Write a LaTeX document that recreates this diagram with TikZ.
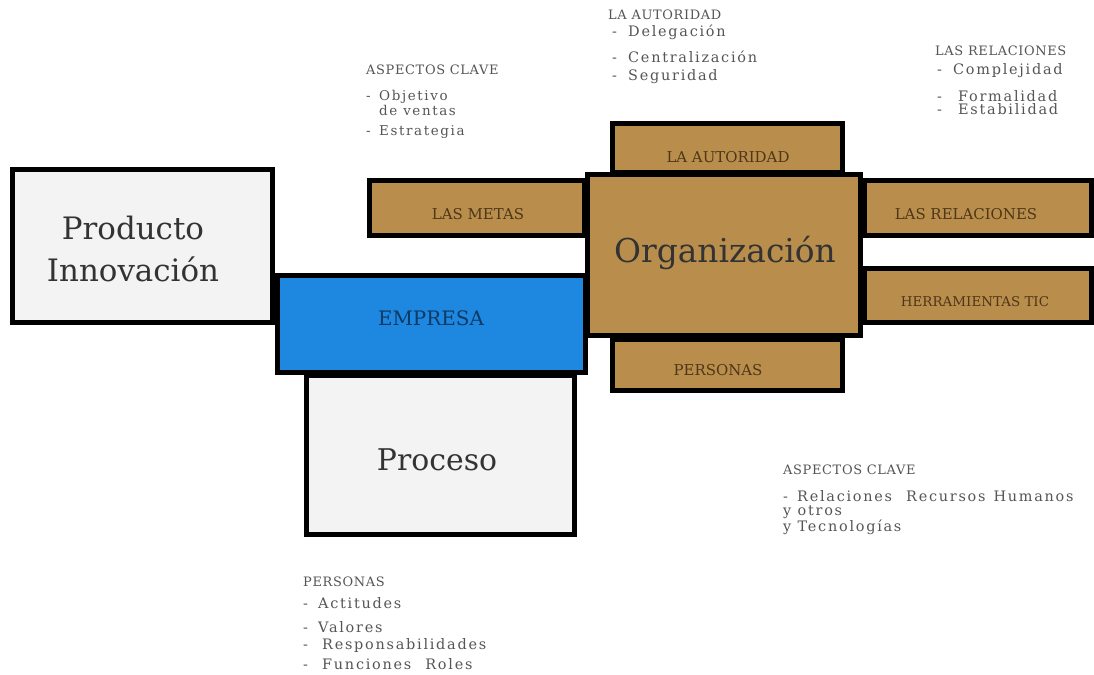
\documentclass[tikz,border=0pt]{standalone}
\usepackage{fontspec}
\setmainfont{DejaVu Serif}
\newfontfamily\notefont[LetterSpace=12]{DejaVu Serif}
\newfontfamily\headfont[LetterSpace=5]{DejaVu Serif}
\definecolor{brownc}{HTML}{B98E4C}
\definecolor{bluec}{HTML}{1E88E0}
\definecolor{paper}{HTML}{F2F3F2}
\definecolor{brtext}{HTML}{4E3617}
\definecolor{bltext}{HTML}{0D3A66}
\definecolor{notec}{HTML}{555555}
\newcommand{\itm}[1][15bp]{\makebox[#1][l]{-}}
\tikzset{
  box/.style={draw=black, line width=5bp, inner sep=0pt, outer sep=0pt},
  graybox/.style={box, fill=paper},
  brownbox/.style={box, fill=brownc},
  bluebox/.style={box, fill=bluec},
  biglabel/.style={inner sep=0pt, align=center, text=black!80},
  brlabel/.style={inner sep=0pt, font=\fontsize{15}{17}\selectfont, text=brtext},
  head/.style={anchor=west, inner sep=0pt, font=\headfont\fontsize{13}{14}\selectfont, text=notec},
  note/.style={anchor=west, inner sep=0pt, align=left, font=\notefont\fontsize{14.5}{13}\selectfont, text=notec},
}
\begin{document}
\begin{tikzpicture}[x=1bp, y=-1bp]
\useasboundingbox (0,0) rectangle (1094,675);
\fill[white] (0,0) rectangle (1094,675);
% left group
\node[graybox, minimum width=260bp, minimum height=153bp] (prod) at (142.5,246) {};
\node[graybox, minimum width=268bp, minimum height=159bp] (proc) at (440.5,455) {};
\node[bluebox, minimum width=308bp, minimum height=97bp] (emp) at (431.5,324) {};
% brown satellites
\node[brownbox, minimum width=215bp, minimum height=55bp] (left) at (477,208) {};
\node[brownbox, minimum width=230bp, minimum height=49bp] (top) at (727.5,148) {};
\node[brownbox, minimum width=230bp, minimum height=51bp] (bot) at (727.5,365) {};
\node[brownbox, minimum width=227bp, minimum height=55bp] (r1) at (978,208) {};
\node[brownbox, minimum width=227bp, minimum height=54bp] (r2) at (978,295.5) {};
\node[brownbox, minimum width=273bp, minimum height=161bp] (org) at (724,255) {};
% labels
\node[biglabel, font=\fontsize{31}{42}\selectfont] (prodl) at (133,249) {Producto\\Innovación};
\node[biglabel, font=\fontsize{30}{34}\selectfont] (procl) at (437,460) {Proceso};
\node[biglabel, font=\fontsize{33}{36}\selectfont] (orgl) at (725,253) {Organización};
\node[inner sep=0pt, font=\fontsize{20}{22}\selectfont, text=bltext] (empl) at (431,318) {EMPRESA};
\node[brlabel] (leftl) at (478,214) {LAS METAS};
\node[brlabel] (topl) at (728,157) {LA AUTORIDAD};
\node[brlabel] (botl) at (718,370) {PERSONAS};
\node[brlabel] (r1l) at (966,214) {LAS RELACIONES};
\node[brlabel, font=\fontsize{13.5}{15}\selectfont] (r2l) at (975,302) {HERRAMIENTAS TIC};
% note block 1
\node[head] (h1) at (366,70) {ASPECTOS CLAVE};
\node[note, font=\notefont\fontsize{13.5}{12}\selectfont] (n1a) at (366,103) {\itm[13bp]Objetivo\\\hspace*{13bp}de ventas};
\node[note, font=\notefont\fontsize{13.5}{12}\selectfont] (n1b) at (366,132) {\itm[13bp]Estrategia};
% note block 2
\node[head] (h2) at (608,15) {LA AUTORIDAD};
\node[note] (n2a) at (612,32) {\itm[16bp]Delegación};
\node[note] (n2b) at (612,57) {\itm[16bp]Centralización};
\node[note] (n2c) at (612,77) {\itm[16bp]Seguridad};
% note block 3
\node[head] (h3) at (935,51) {LAS RELACIONES};
\node[note] (n3a) at (937,71) {\itm[16bp]Complejidad};
\node[note] (n3b) at (937,96) {\itm[21bp]Formalidad};
\node[note] (n3c) at (937,109) {\itm[21bp]Estabilidad};
% note block 4
\node[head] (h4) at (783,470) {ASPECTOS CLAVE};
\node[note] (n4a) at (783,496) {\itm[14bp]Relaciones\hspace*{14bp}Recursos\hspace*{8bp}Humanos};
\node[note] (n4b) at (783,520) {y otros\\y Tecnologías};
% note block 5
\node[head] (h5) at (303,582) {PERSONAS};
\node[note] (n5a) at (303,603) {\itm[15bp]Actitudes};
\node[note] (n5b) at (303,627) {\itm[15bp]Valores};
\node[note] (n5c) at (303,646) {\itm[19bp]Responsabilidades};
\node[note] (n5d) at (303,664) {\itm[19bp]Funciones\hspace*{14bp}Roles};
\end{tikzpicture}
\end{document}
